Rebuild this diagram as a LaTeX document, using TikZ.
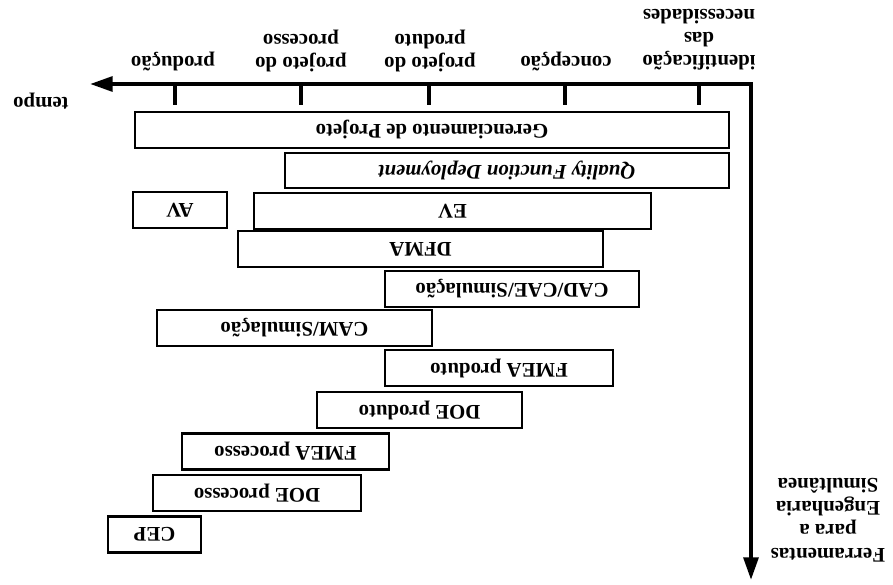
\documentclass[tikz,border=0pt]{standalone}
\usepackage{fontspec}
\setmainfont{Liberation Serif}
\usetikzlibrary{arrows.meta}
\begin{document}
\begin{tikzpicture}[x=0.75pt,y=-0.75pt,
  every node/.style={font=\fontsize{15.6}{17.2}\selectfont\bfseries, rotate=180, inner sep=0pt},
  lbl/.style={align=center},
  bar/.style={draw, line width=1.8pt, rectangle, minimum height=27pt},
  axis/.style={line width=3pt, line join=miter,
    {Triangle[length=17pt,width=11pt]}-{Triangle[length=17pt,width=11pt]}},
  tickmark/.style={line width=2.5pt}]
\useasboundingbox (0,0) rectangle (893,585);

% time axis and tools axis
\coordinate (tipL) at (90,84);
\coordinate (corner) at (751,84);
\coordinate (tipB) at (751,580);
\draw[axis] (tipL) -- (corner) -- (tipB);

% phase ticks
\foreach \i/\x in {1/175,2/301,3/429,4/565,5/699}{
  \coordinate (ta\i) at (\x,84);
  \coordinate (tb\i) at (\x,105);
  \draw[tickmark] (ta\i) -- (tb\i);
}

% phase labels
\node[lbl] (lprod) at (173,62) {produção};
\node[lbl] (lproc) at (301,51) {projeto do\\processo};
\node[lbl] (lprodu) at (430,51) {projeto do\\produto};
\node[lbl] (lconc) at (566,62) {concepção};
\node[lbl] (lident) at (699,40) {identificação\\das\\necessidades};
\node[lbl] (ltempo) at (41,101) {tempo};
\node[lbl, font=\fontsize{15.6}{17.4}\selectfont\bfseries] (lferr) at (828,520) {Ferramentas\\para a\\Engenharia\\Simultânea};

% tool bars
\node[bar, minimum width=445.5pt] (gp) at (432,130) {Gerenciamento de Projeto};
\node[bar, minimum width=333pt, minimum height=26pt, font=\fontsize{15.6}{17.2}\selectfont\bfseries\itshape] (qfd) at (507,170.5) {Quality Function Deployment};
\node[bar, minimum width=70.5pt] (av) at (180,210) {AV};
\node[bar, minimum width=297.75pt] (ev) at (452.5,211) {EV};
\node[bar, minimum width=273.75pt] (dfma) at (420.5,249) {DFMA};
\node[bar, minimum width=190.5pt] (cad) at (512,289) {CAD/CAE/Simulação};
\node[bar, minimum width=206.25pt] (cam) at (294.5,328) {CAM/Simulação};
\node[bar, minimum width=171pt] (fmeaprod) at (499,368) {FMEA produto};
\node[bar, minimum width=153.75pt] (doeprod) at (419.5,410) {DOE produto};
\node[bar, minimum width=155.25pt] (fmeaproc) at (285.5,451.5) {FMEA processo};
\node[bar, minimum width=156pt] (doeproc) at (257,493) {DOE processo};
\node[bar, minimum width=69.75pt] (cep) at (154.5,534.5) {CEP};
\end{tikzpicture}
\end{document}
